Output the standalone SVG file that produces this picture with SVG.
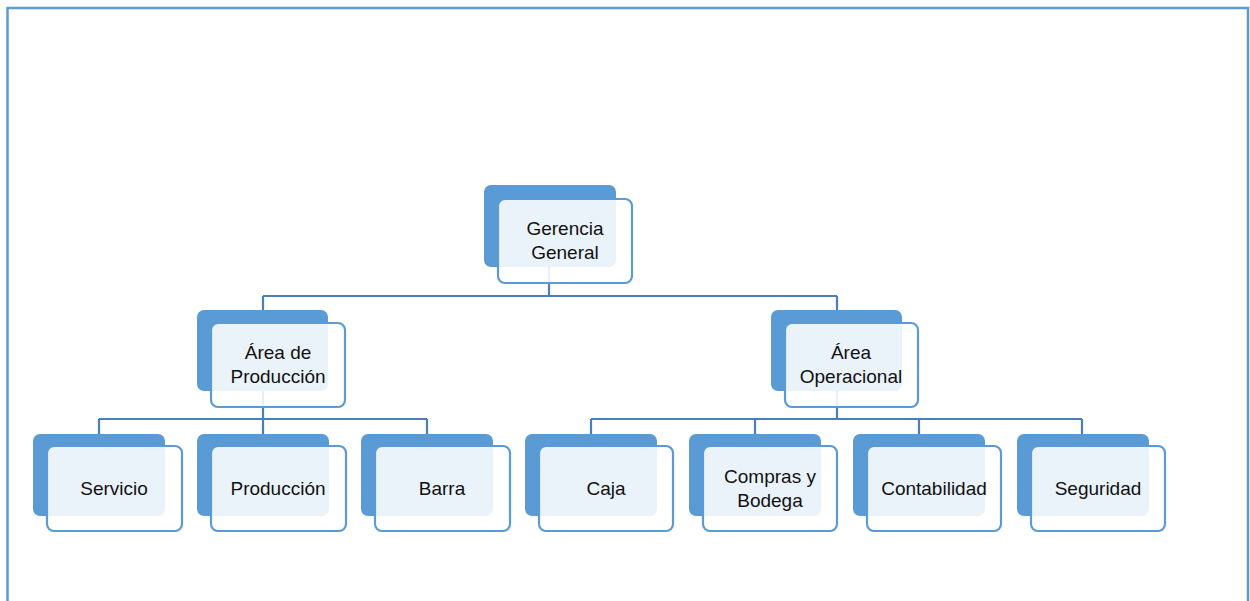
<svg xmlns="http://www.w3.org/2000/svg" width="1250" height="601" viewBox="0 0 1250 601">
<style>
.frame{fill:none;stroke:#5b9bd5;stroke-width:2.5}
.back{fill:#5b9bd5}
.front{fill:#ffffff;fill-opacity:0.88;stroke:#5b9bd5;stroke-width:2.2}
.conn{fill:none;stroke:#4a7fbb;stroke-width:2.2}
text{font-family:"Liberation Sans",Arial,sans-serif;font-size:19px;fill:#111111;text-anchor:middle}
</style>
<rect width="1250" height="601" fill="#ffffff"/>
<path class="frame" d="M7.5,601 V8 H1248 V601"/>
<g id="connectors">
<path class="conn" d="M549,265 V296 M263,296 H837 M263,296 V311 M837,296 V310"/>
<path class="conn" d="M263,390 V419 M99,419 H427 M99,419 V435 M263,419 V435 M427,419 V435"/>
<path class="conn" d="M837,390 V419 M591,419 H1082 M591,419 V435 M755,419 V435 M919,419 V435 M1082,419 V435"/>
</g>
<g id="n-gerencia">
<rect class="back" x="484" y="185" width="132" height="82" rx="7"/>
<rect class="front" x="498" y="199" width="134" height="84" rx="7"/>
<text x="565" y="235">Gerencia</text>
<text x="565" y="259">General</text>
</g>
<g id="n-produccion-area">
<rect class="back" x="197" y="310" width="131" height="81" rx="7"/>
<rect class="front" x="211" y="323" width="134" height="84" rx="7"/>
<text x="278" y="359">Área de</text>
<text x="278" y="383">Producción</text>
</g>
<g id="n-operacional">
<rect class="back" x="771" y="310" width="131" height="81" rx="7"/>
<rect class="front" x="785" y="323" width="133" height="84" rx="7"/>
<text x="851" y="359">Área</text>
<text x="851" y="383">Operacional</text>
</g>
<g id="n-servicio">
<rect class="back" x="33" y="434" width="132" height="82" rx="7"/>
<rect class="front" x="47" y="446" width="135" height="85" rx="7"/>
<text x="114" y="495">Servicio</text>
</g>
<g id="n-produccion">
<rect class="back" x="197" y="434" width="132" height="82" rx="7"/>
<rect class="front" x="211" y="446" width="135" height="85" rx="7"/>
<text x="278" y="495">Producción</text>
</g>
<g id="n-barra">
<rect class="back" x="361" y="434" width="132" height="82" rx="7"/>
<rect class="front" x="375" y="446" width="135" height="85" rx="7"/>
<text x="442" y="495">Barra</text>
</g>
<g id="n-caja">
<rect class="back" x="525" y="434" width="132" height="82" rx="7"/>
<rect class="front" x="539" y="446" width="134" height="85" rx="7"/>
<text x="606" y="495">Caja</text>
</g>
<g id="n-compras">
<rect class="back" x="689" y="434" width="132" height="82" rx="7"/>
<rect class="front" x="703" y="446" width="134" height="85" rx="7"/>
<text x="770" y="483">Compras y</text>
<text x="770" y="507">Bodega</text>
</g>
<g id="n-contabilidad">
<rect class="back" x="853" y="434" width="132" height="82" rx="7"/>
<rect class="front" x="867" y="446" width="134" height="85" rx="7"/>
<text x="934" y="495">Contabilidad</text>
</g>
<g id="n-seguridad">
<rect class="back" x="1017" y="434" width="132" height="82" rx="7"/>
<rect class="front" x="1031" y="446" width="134" height="85" rx="7"/>
<text x="1098" y="495">Seguridad</text>
</g>
</svg>
